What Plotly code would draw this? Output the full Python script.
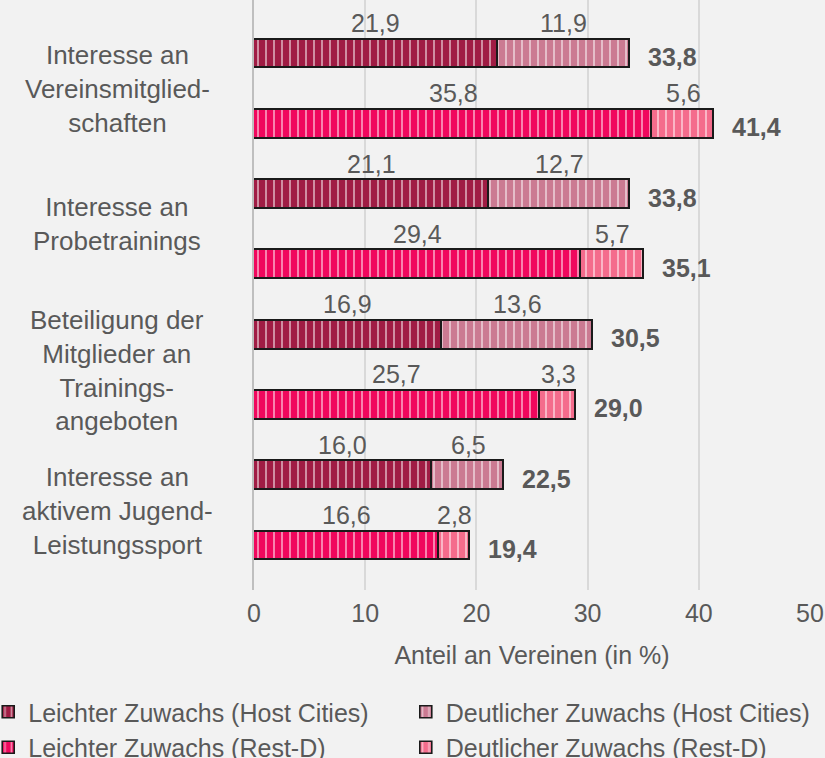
import plotly.graph_objects as go

# Daten aus der Grafik (Anteil an Vereinen in %)
kategorien = [
    "Interesse an<br>Vereinsmitglied-<br>schaften",
    "Interesse an<br>Probetrainings",
    "Beteiligung der<br>Mitglieder an<br>Trainings-<br>angeboten",
    "Interesse an<br>aktivem Jugend-<br>Leistungssport",
]
leicht_host = [21.9, 21.1, 16.9, 16.0]
deutlich_host = [11.9, 12.7, 13.6, 6.5]
leicht_rest = [35.8, 29.4, 25.7, 16.6]
deutlich_rest = [5.6, 5.7, 3.3, 2.8]
gesamt_host = [33.8, 33.8, 30.5, 22.5]
gesamt_rest = [41.4, 35.1, 29.0, 19.4]

namen = [
    "Leichter Zuwachs (Host Cities)",
    "Deutlicher Zuwachs (Host Cities)",
    "Leichter Zuwachs (Rest-D)",
    "Deutlicher Zuwachs (Rest-D)",
]
farben = ["#A01C44", "#CB7A92", "#F0075D", "#F46C8C"]

schrift = "Liberation Sans, Arial, sans-serif"
grau = "#595959"

y_host = [2 * i for i in range(len(kategorien))]
y_rest = [2 * i + 1 for i in range(len(kategorien))]

def fmt(v):
    return f"{v:.1f}".replace(".", ",")

fig = go.Figure()

# Legende in zwei Spalten: leichter Zuwachs links, deutlicher Zuwachs rechts
serien = [
    (leicht_host, y_host, "legend"),
    (deutlich_host, y_host, "legend2"),
    (leicht_rest, y_rest, "legend"),
    (deutlich_rest, y_rest, "legend2"),
]
for (werte, ypos, leg), name, farbe in zip(serien, namen, farben):
    fig.add_trace(go.Bar(
        x=werte, y=ypos, orientation="h", name=name, width=0.41, legend=leg,
        marker=dict(color=farbe, line=dict(color="#1a1a1a", width=1.6),
                    pattern=dict(shape="|", fgcolor="white", size=8, solidity=0.25)),
        hoverinfo="x+name",
    ))

annotationen = []
# Werte über den Segmenten
for leicht, deutlich, ypos in [(leicht_host, deutlich_host, y_host), (leicht_rest, deutlich_rest, y_rest)]:
    for a, b, y in zip(leicht, deutlich, ypos):
        annotationen.append(dict(x=a / 2, y=y, text=fmt(a), showarrow=False, yshift=31,
                                 font=dict(size=25, color=grau, family=schrift)))
        annotationen.append(dict(x=a + b / 2, y=y, text=fmt(b), showarrow=False, yshift=31,
                                 font=dict(size=25, color=grau, family=schrift)))
# Summen rechts neben den Balken
for gesamt, ypos in [(gesamt_host, y_host), (gesamt_rest, y_rest)]:
    for g, y in zip(gesamt, ypos):
        annotationen.append(dict(x=g, y=y, text="<b>" + fmt(g) + "</b>", showarrow=False,
                                 xanchor="left", xshift=16, yshift=-3,
                                 font=dict(size=25, color=grau, family=schrift)))
# Kategorien links (zweite Beschriftung sitzt im Original etwas höher)
versatz = [0, 6, 0, 0]
for i, kat in enumerate(kategorien):
    annotationen.append(dict(x=-0.246, xref="paper", y=2 * i + 0.5, text=kat, showarrow=False,
                             xanchor="center", align="center", yshift=versatz[i],
                             font=dict(size=26, color=grau, family=schrift)))

legende = dict(orientation="v", xref="paper", yref="container", y=1 - 689 / 758,
               xanchor="left", yanchor="top", traceorder="normal", tracegroupgap=0,
               font=dict(size=25, color=grau), bgcolor="rgba(0,0,0,0)")

fig.update_layout(
    barmode="stack",
    width=825, height=758,
    margin=dict(l=254, r=15, t=0, b=168, autoexpand=False),
    paper_bgcolor="#F2F2F2",
    plot_bgcolor="#F2F2F2",
    font=dict(family=schrift, color=grau, size=25),
    annotations=annotationen,
    xaxis=dict(range=[0, 50], dtick=10, showgrid=True, gridcolor="#D9D9D9", gridwidth=1.5,
               zeroline=False, showline=False, ticks="", ticklabelstandoff=6,
               title=dict(text="Anteil an Vereinen (in %)", font=dict(size=25, color=grau), standoff=20),
               tickfont=dict(size=25, color=grau)),
    yaxis=dict(range=[7.625, -0.767], showticklabels=False, showgrid=False, zeroline=False,
               showline=True, linecolor="#BFBFBF", linewidth=1.5),
    legend=dict(legende, x=-0.478),
    legend2=dict(legende, x=0.273),
    bargap=0,
)

fig.write_html("out.html", config={"displayModeBar": False},
               post_script="document.body.style.margin='0';")
